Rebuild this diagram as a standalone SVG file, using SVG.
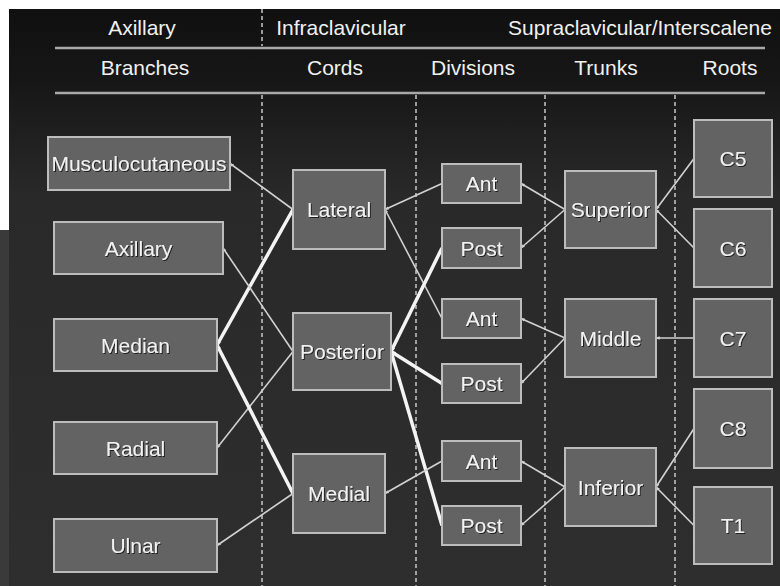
<svg xmlns="http://www.w3.org/2000/svg" width="780" height="586" viewBox="0 0 780 586">
  <defs>
    <linearGradient id="bg" x1="0" y1="0" x2="0" y2="1">
      <stop offset="0" stop-color="#101010"/>
      <stop offset="0.12" stop-color="#161616"/>
      <stop offset="0.32" stop-color="#292929"/>
      <stop offset="1" stop-color="#2e2e2e"/>
    </linearGradient>
    <filter id="shadow" x="-10%" y="-20%" width="120%" height="140%">
      <feDropShadow dx="1" dy="1" stdDeviation="0.6" flood-color="#000" flood-opacity="0.7"/>
    </filter>
    <marker id="tip" viewBox="0 0 6 6" refX="5" refY="3" markerWidth="4.5" markerHeight="4.5" markerUnits="userSpaceOnUse" orient="auto">
      <path d="M0,0.8 L6,3 L0,5.2 Z" fill="#d2d2d2"/>
    </marker>
    <marker id="tipBold" viewBox="0 0 6 6" refX="5" refY="3" markerWidth="5.5" markerHeight="5.5" markerUnits="userSpaceOnUse" orient="auto">
      <path d="M0,0.5 L6,3 L0,5.5 Z" fill="#f4f4f4"/>
    </marker>
  </defs>
  <style>
    .hdr { font-family: "Liberation Sans", Arial, sans-serif; font-size: 21px; fill: #f0f0f0; text-anchor: middle; }
    .rule { stroke: #a8a8a8; stroke-width: 2.5; }
    .sep { stroke: #c8c8c8; stroke-width: 1.5; stroke-dasharray: 4 3; }
    .box { fill: #636363; stroke: #bcbcbc; stroke-width: 2; }
    .lbl { font-family: "Liberation Sans", Arial, sans-serif; font-size: 21px; fill: #f2f2f2; text-anchor: middle; filter: url(#shadow); }
    .thin { stroke: #d2d2d2; stroke-width: 1.6; fill: none; marker-end: url(#tip); }
    .bold { stroke: #f4f4f4; stroke-width: 3.5; fill: none; marker-end: url(#tipBold); }
  </style>

  <!-- page margin and dark panel -->
  <rect x="0" y="0" width="780" height="586" fill="#ffffff"/>
  <rect x="0" y="230" width="9" height="356" fill="#3a3a3a"/>
  <rect x="9" y="9" width="771" height="577" fill="url(#bg)"/>

  <!-- header -->
  <g id="header">
    <text class="hdr" x="142" y="35">Axillary</text>
    <text class="hdr" x="341" y="35">Infraclavicular</text>
    <text class="hdr" x="640" y="35">Supraclavicular/Interscalene</text>
    <line class="rule" x1="55" y1="48" x2="765" y2="48"/>
    <text class="hdr" x="145" y="75">Branches</text>
    <text class="hdr" x="335" y="75">Cords</text>
    <text class="hdr" x="473" y="75">Divisions</text>
    <text class="hdr" x="606" y="75">Trunks</text>
    <text class="hdr" x="730" y="75">Roots</text>
    <line class="rule" x1="55" y1="93" x2="765" y2="93"/>
  </g>

  <!-- column separators -->
  <g id="separators">
    <line class="sep" x1="262" y1="9" x2="262" y2="46"/>
    <line class="sep" x1="262" y1="95" x2="262" y2="586"/>
    <line class="sep" x1="416" y1="95" x2="416" y2="586"/>
    <line class="sep" x1="545" y1="95" x2="545" y2="586"/>
    <line class="sep" x1="675" y1="95" x2="675" y2="586"/>
  </g>

  <!-- connectors: drawn from root side toward branch side -->
  <g id="connectors">
    <!-- cords to branches -->
    <line class="thin" x1="293" y1="209.5" x2="230" y2="163.5"/>
    <line class="bold" x1="293" y1="209.5" x2="217" y2="345"/>
    <line class="thin" x1="293" y1="351.5" x2="223" y2="248"/>
    <line class="thin" x1="293" y1="351.5" x2="217" y2="448"/>
    <line class="bold" x1="293" y1="493.5" x2="217" y2="345"/>
    <line class="thin" x1="293" y1="493.5" x2="217" y2="545.5"/>
    <!-- divisions to cords -->
    <line class="thin" x1="442" y1="183.5" x2="385" y2="209.5"/>
    <line class="thin" x1="442" y1="318.5" x2="385" y2="209.5"/>
    <line class="bold" x1="442" y1="248" x2="391" y2="351.5"/>
    <line class="bold" x1="442" y1="383.5" x2="391" y2="351.5"/>
    <line class="bold" x1="442" y1="525.5" x2="391" y2="351.5"/>
    <line class="thin" x1="442" y1="461" x2="385" y2="493.5"/>
    <!-- trunks to divisions -->
    <line class="thin" x1="565" y1="209.5" x2="521" y2="183.5"/>
    <line class="thin" x1="565" y1="209.5" x2="521" y2="248"/>
    <line class="thin" x1="565" y1="338" x2="521" y2="318.5"/>
    <line class="thin" x1="565" y1="338" x2="521" y2="383.5"/>
    <line class="thin" x1="565" y1="487" x2="521" y2="461"/>
    <line class="thin" x1="565" y1="487" x2="521" y2="525.5"/>
    <!-- roots to trunks -->
    <line class="thin" x1="694" y1="158.5" x2="656" y2="209.5"/>
    <line class="thin" x1="694" y1="248" x2="656" y2="209.5"/>
    <line class="thin" x1="694" y1="338" x2="656" y2="338"/>
    <line class="thin" x1="694" y1="428.5" x2="656" y2="487"/>
    <line class="thin" x1="694" y1="525.5" x2="656" y2="487"/>
  </g>

  <!-- branches -->
  <g id="musculocutaneous"><rect class="box" x="48" y="137" width="182" height="53"/><text class="lbl" x="139" y="171">Musculocutaneous</text></g>
  <g id="axillary"><rect class="box" x="54" y="222" width="169" height="52"/><text class="lbl" x="138.5" y="255.5">Axillary</text></g>
  <g id="median"><rect class="box" x="54" y="319" width="163" height="52"/><text class="lbl" x="135.5" y="352.5">Median</text></g>
  <g id="radial"><rect class="box" x="54" y="422" width="163" height="52"/><text class="lbl" x="135.5" y="455.5">Radial</text></g>
  <g id="ulnar"><rect class="box" x="54" y="519" width="163" height="53"/><text class="lbl" x="135.5" y="553">Ulnar</text></g>

  <!-- cords -->
  <g id="lateral"><rect class="box" x="293" y="170" width="92" height="79"/><text class="lbl" x="339" y="217">Lateral</text></g>
  <g id="posterior"><rect class="box" x="293" y="313" width="98" height="77"/><text class="lbl" x="342" y="359">Posterior</text></g>
  <g id="medial"><rect class="box" x="293" y="454" width="92" height="79"/><text class="lbl" x="339" y="501">Medial</text></g>

  <!-- divisions -->
  <g id="ant-superior"><rect class="box" x="442" y="164" width="79" height="39"/><text class="lbl" x="481.5" y="191">Ant</text></g>
  <g id="post-superior"><rect class="box" x="442" y="228" width="79" height="40"/><text class="lbl" x="481.5" y="255.5">Post</text></g>
  <g id="ant-middle"><rect class="box" x="442" y="299" width="79" height="39"/><text class="lbl" x="481.5" y="326">Ant</text></g>
  <g id="post-middle"><rect class="box" x="442" y="364" width="79" height="39"/><text class="lbl" x="481.5" y="391">Post</text></g>
  <g id="ant-inferior"><rect class="box" x="442" y="441" width="79" height="40"/><text class="lbl" x="481.5" y="468.5">Ant</text></g>
  <g id="post-inferior"><rect class="box" x="442" y="506" width="79" height="39"/><text class="lbl" x="481.5" y="533">Post</text></g>

  <!-- trunks -->
  <g id="superior"><rect class="box" x="565" y="171" width="91" height="77"/><text class="lbl" x="610.5" y="217">Superior</text></g>
  <g id="middle"><rect class="box" x="565" y="299" width="91" height="78"/><text class="lbl" x="610.5" y="345.5">Middle</text></g>
  <g id="inferior"><rect class="box" x="565" y="448" width="91" height="78"/><text class="lbl" x="610.5" y="494.5">Inferior</text></g>

  <!-- roots -->
  <g id="c5"><rect class="box" x="694" y="120" width="78" height="77"/><text class="lbl" x="733" y="166">C5</text></g>
  <g id="c6"><rect class="box" x="694" y="209" width="78" height="78"/><text class="lbl" x="733" y="255.5">C6</text></g>
  <g id="c7"><rect class="box" x="694" y="299" width="78" height="78"/><text class="lbl" x="733" y="345.5">C7</text></g>
  <g id="c8"><rect class="box" x="694" y="389" width="78" height="79"/><text class="lbl" x="733" y="436">C8</text></g>
  <g id="t1"><rect class="box" x="694" y="487" width="78" height="77"/><text class="lbl" x="733" y="533">T1</text></g>
</svg>
